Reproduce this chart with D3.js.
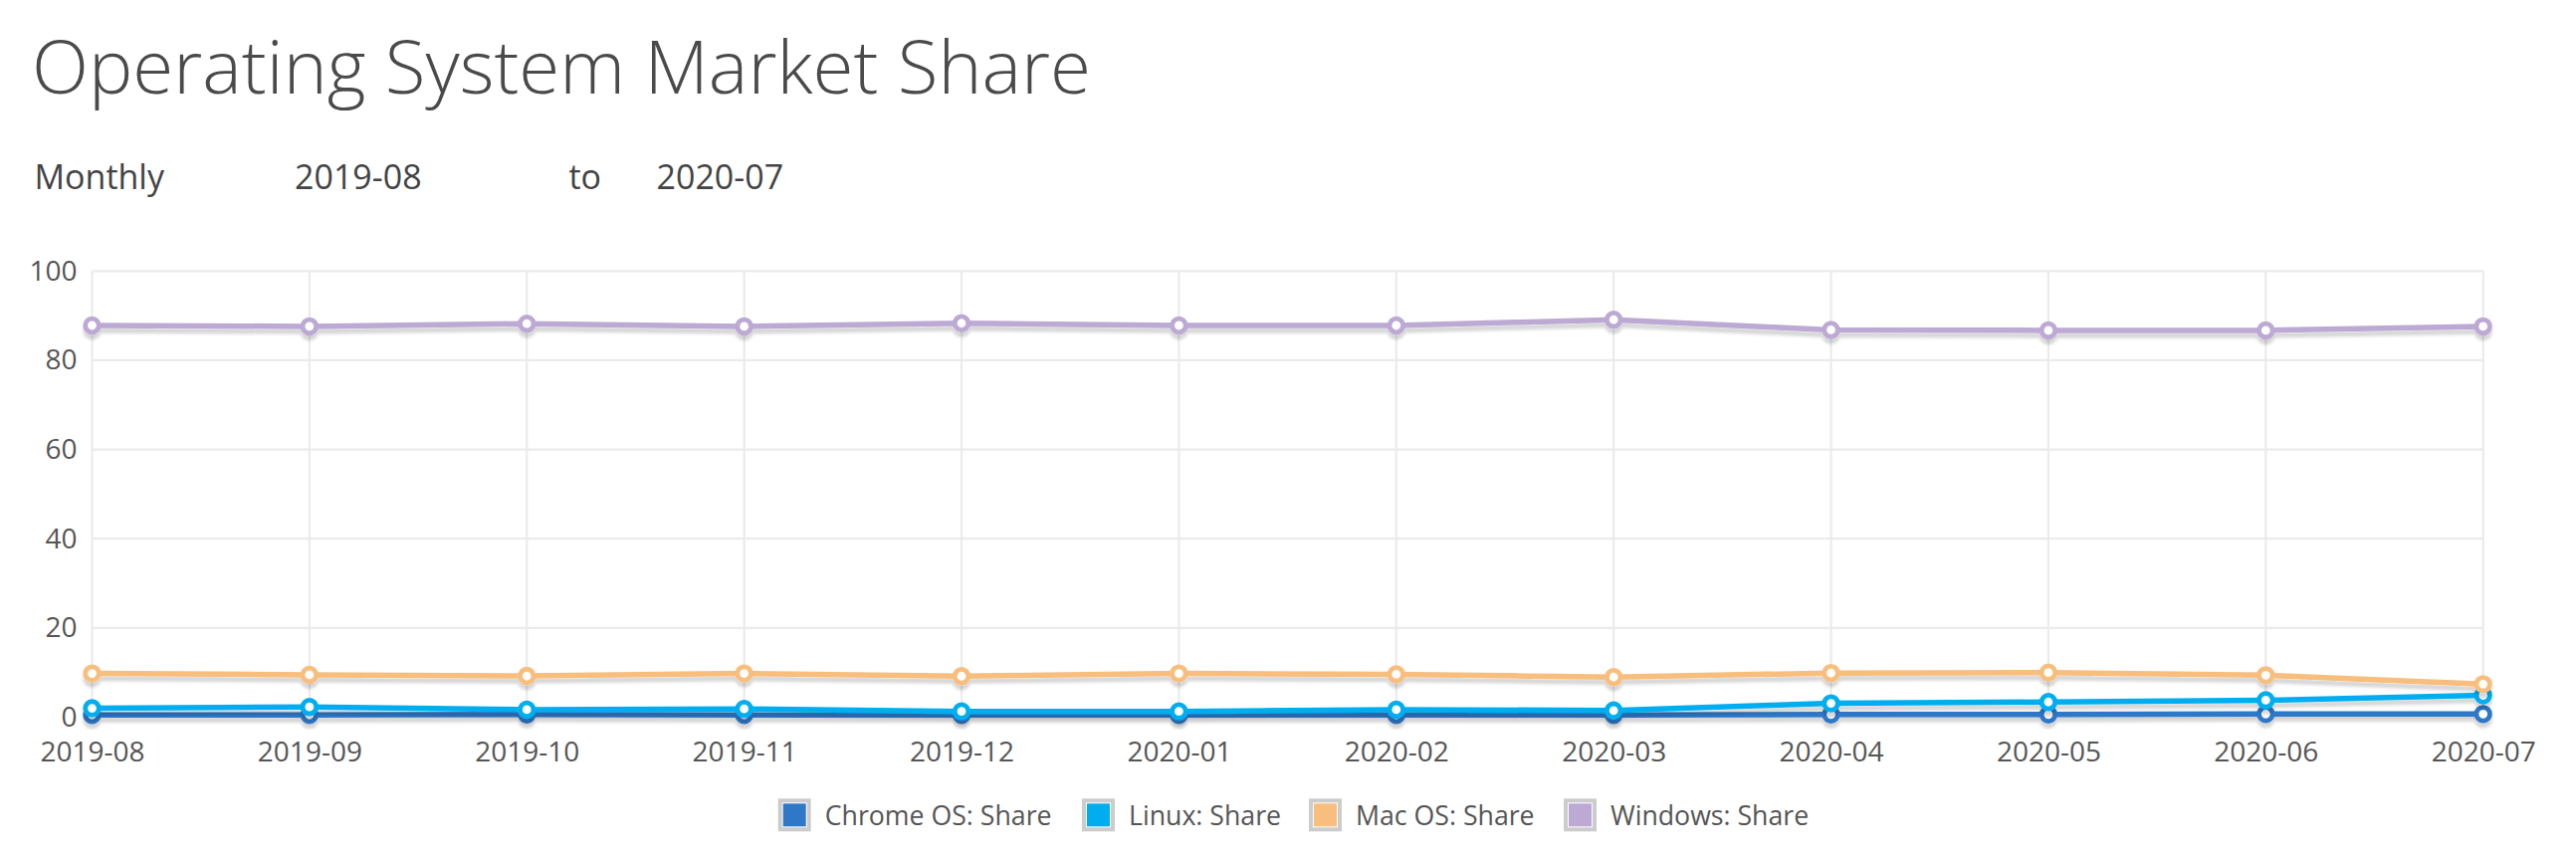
<!DOCTYPE html>
<html><head><meta charset="utf-8">
<script src="https://cdn.jsdelivr.net/npm/d3@7"></script>
<style>
html,body{margin:0;padding:0;background:#fff;}
svg{display:block;font-family:"Open Sans",sans-serif;}
</style></head>
<body><svg id="chart" width="2588" height="865"></svg>
<script>
const categories = ["2019-08","2019-09","2019-10","2019-11","2019-12","2020-01","2020-02","2020-03","2020-04","2020-05","2020-06","2020-07"];
const chromeOS = [0.5,0.5,0.6,0.5,0.5,0.5,0.5,0.5,0.6,0.6,0.7,0.7];
const linux    = [2.0,2.3,1.7,1.85,1.3,1.3,1.7,1.5,3.1,3.4,3.8,4.9];
const macOS    = [9.8,9.5,9.25,9.8,9.2,9.8,9.6,9.0,9.9,10.0,9.4,7.4];
const windows  = [87.8,87.6,88.2,87.6,88.3,87.8,87.8,89.1,86.8,86.7,86.7,87.6];
const seriesNames = ["Chrome OS: Share","Linux: Share","Mac OS: Share","Windows: Share"];
const seriesColors = ["#2f78c8","#00aeef","#f8be7d","#bca9d4"];
const yTicks = [0,20,40,60,80,100];
const titleText = "Operating System Market Share";
const periodLabel = "Monthly", fromLabel = "2019-08", toWord = "to", toLabel = "2020-07";

(function(){
const seriesValues = [chromeOS, linux, macOS, windows];
const svg = d3.select("#chart");
const pl = 92.5, pr = 2494.7, pt = 272.3, pb = 720.5;

const x = d3.scalePoint().domain(categories).range([pl, pr]);
const y = d3.scaleLinear().domain([0,100]).range([pb, pt]);

const defs = svg.append("defs");
const f = defs.append("filter").attr("id","shadow").attr("x","-5%").attr("y","-50%").attr("width","110%").attr("height","200%");
f.append("feDropShadow").attr("dx",0).attr("dy",5).attr("stdDeviation",1.6).attr("flood-color","#000").attr("flood-opacity",0.16);

const title = svg.append("text").attr("x",32).attr("y",94).attr("fill","#4a4a4a")
  .style("font-weight",300).style("font-size","77px").text(titleText);
const tw = title.node().getComputedTextLength();
title.style("font-size", (77*1064/tw).toFixed(2)+"px");

const sub = [[periodLabel,34.5],[fromLabel,296],[toWord,571.5],[toLabel,659.5]];
svg.selectAll("text.sub").data(sub).join("text").attr("class","sub")
  .attr("x",d=>d[1]).attr("y",190).attr("fill","#444").style("font-size","34px").text(d=>d[0]);

const grid = svg.append("g");
grid.selectAll("line.h").data(yTicks).join("line").attr("class","h")
  .attr("x1",pl).attr("x2",pr).attr("y1",d=>y(d)).attr("y2",d=>y(d))
  .attr("stroke","#ebebeb").attr("stroke-width",2.2);
grid.selectAll("line.v").data(categories).join("line").attr("class","v")
  .attr("x1",d=>x(d)).attr("x2",d=>x(d)).attr("y1",pt).attr("y2",pb)
  .attr("stroke","#ebebeb").attr("stroke-width",2.2);

const yAxis = svg.append("g").attr("transform",`translate(${pl},0)`)
  .call(d3.axisLeft(y).tickValues(yTicks).tickSize(0).tickPadding(15));
yAxis.select(".domain").remove();
yAxis.selectAll("text").style("font-size","28px").attr("fill","#555").style("font-family","'Open Sans',sans-serif");

const xAxis = svg.append("g").attr("transform",`translate(0,${pb})`)
  .call(d3.axisBottom(x).tickSize(0).tickPadding(0));
xAxis.select(".domain").remove();
xAxis.selectAll("text").attr("dy",null).attr("y",44).style("font-size","28px").attr("fill","#555").style("font-family","'Open Sans',sans-serif");

const line = d3.line().x((d,i)=>x(categories[i])).y(d=>y(d));
seriesValues.forEach((vals,si)=>{
  const g = svg.append("g").attr("filter","url(#shadow)");
  g.append("path").datum(vals).attr("d",line).attr("fill","none")
    .attr("stroke",seriesColors[si]).attr("stroke-width",5.5).attr("stroke-linejoin","round");
  g.selectAll("circle").data(vals).join("circle")
    .attr("cx",(d,i)=>x(categories[i])).attr("cy",d=>y(d)).attr("r",6.8)
    .attr("fill","#fff").attr("stroke",seriesColors[si]).attr("stroke-width",4.8);
});

const legendX = [781.7,1087,1315,1571];
const lg = svg.append("g");
seriesNames.forEach((name,i)=>{
  const gx = legendX[i];
  const it = lg.append("g").attr("transform",`translate(${gx},802.3)`);
  it.append("rect").attr("width",33).attr("height",33).attr("fill","#cccccc");
  it.append("rect").attr("x",4).attr("y",4).attr("width",25).attr("height",25).attr("fill","#fff");
  it.append("rect").attr("x",5).attr("y",5).attr("width",23).attr("height",23).attr("fill",seriesColors[i]);
  it.append("text").attr("x",47).attr("y",27).attr("fill","#555").style("font-size","26.7px").text(name);
});
})();
</script></body></html>
